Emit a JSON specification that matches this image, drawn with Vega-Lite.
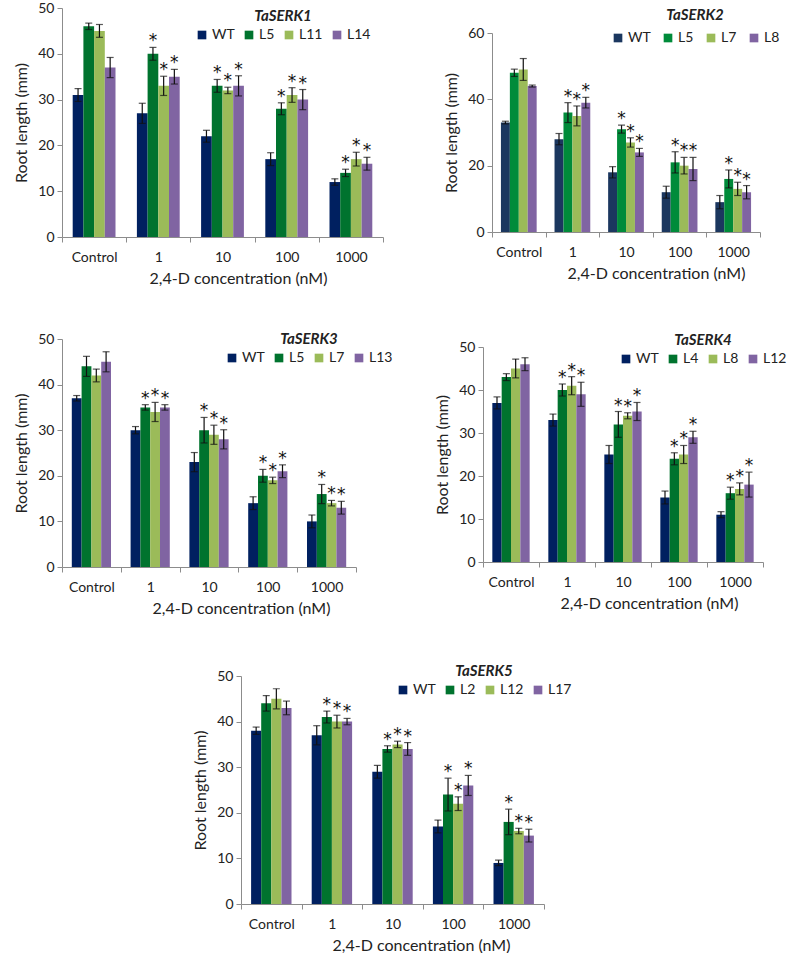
{
  "$schema": "https://vega.github.io/schema/vega-lite/v6.json",
  "padding": {"left": 13, "top": 1, "right": 0, "bottom": 0},
  "background": "white",
  "config": {
    "font": "Lato",
    "view": {"stroke": null},
    "axis": {"grid": false, "domainColor": "#8c8c8c", "tickColor": "#8c8c8c", "labelColor": "#222", "titleColor": "#222", "labelFontSize": 14, "titleFontSize": 16, "titleFontWeight": "normal", "labelFont": "Lato", "titleFont": "Lato", "labelOverlap": false},
    "axisY": {"tickSize": 5, "labelPadding": 3, "titlePadding": 8},
    "axisX": {"tickSize": 5, "labelPadding": 8, "titlePadding": 6, "labelAngle": 0, "tickBand": "extent"},
    "legend": {"orient": "none", "direction": "horizontal", "symbolType": "square", "symbolSize": 75, "symbolStrokeWidth": 0, "labelFontSize": 14, "labelColor": "#222", "titleFontSize": 15, "titleFontStyle": "italic", "titleFontWeight": "bold", "titleColor": "#222", "titleAnchor": "middle", "titlePadding": 4, "labelOffset": 3, "columnPadding": 7},
    "tick": {"thickness": 1.2},
    "text": {"fontSize": 17, "font": "DejaVu Sans", "color": "#111"}
  },
  "datasets": {
    "p1": [
      {"c": "Control", "g": "WT", "v": 31, "lo": 29.6, "hi": 32.4, "sig": ""},
      {"c": "Control", "g": "L5", "v": 46, "lo": 45.3, "hi": 46.7, "sig": ""},
      {"c": "Control", "g": "L11", "v": 45, "lo": 43.6, "hi": 46.4, "sig": ""},
      {"c": "Control", "g": "L14", "v": 37, "lo": 34.8, "hi": 39.2, "sig": ""},
      {"c": "1", "g": "WT", "v": 27, "lo": 24.8, "hi": 29.2, "sig": ""},
      {"c": "1", "g": "L5", "v": 40, "lo": 38.6, "hi": 41.4, "sig": "*"},
      {"c": "1", "g": "L11", "v": 33, "lo": 30.9, "hi": 35.1, "sig": "*"},
      {"c": "1", "g": "L14", "v": 35, "lo": 33.4, "hi": 36.6, "sig": "*"},
      {"c": "10", "g": "WT", "v": 22, "lo": 20.7, "hi": 23.3, "sig": ""},
      {"c": "10", "g": "L5", "v": 33, "lo": 31.6, "hi": 34.4, "sig": "*"},
      {"c": "10", "g": "L11", "v": 32, "lo": 31.3, "hi": 32.7, "sig": "*"},
      {"c": "10", "g": "L14", "v": 33, "lo": 30.8, "hi": 35.2, "sig": "*"},
      {"c": "100", "g": "WT", "v": 17, "lo": 15.6, "hi": 18.4, "sig": ""},
      {"c": "100", "g": "L5", "v": 28, "lo": 26.7, "hi": 29.3, "sig": "*"},
      {"c": "100", "g": "L11", "v": 31, "lo": 29.4, "hi": 32.6, "sig": "*"},
      {"c": "100", "g": "L14", "v": 30, "lo": 27.8, "hi": 32.2, "sig": "*"},
      {"c": "1000", "g": "WT", "v": 12, "lo": 11.3, "hi": 12.7, "sig": ""},
      {"c": "1000", "g": "L5", "v": 14, "lo": 13.2, "hi": 14.8, "sig": "*"},
      {"c": "1000", "g": "L11", "v": 17, "lo": 15.5, "hi": 18.5, "sig": "*"},
      {"c": "1000", "g": "L14", "v": 16, "lo": 14.6, "hi": 17.4, "sig": "*"}
    ],
    "p2": [
      {"c": "Control", "g": "WT", "v": 33, "lo": 32.6, "hi": 33.4, "sig": ""},
      {"c": "Control", "g": "L5", "v": 48, "lo": 46.9, "hi": 49.1, "sig": ""},
      {"c": "Control", "g": "L7", "v": 49, "lo": 45.7, "hi": 52.3, "sig": ""},
      {"c": "Control", "g": "L8", "v": 44, "lo": 43.7, "hi": 44.3, "sig": ""},
      {"c": "1", "g": "WT", "v": 28, "lo": 26.3, "hi": 29.7, "sig": ""},
      {"c": "1", "g": "L5", "v": 36, "lo": 33, "hi": 39, "sig": "*"},
      {"c": "1", "g": "L7", "v": 35, "lo": 32, "hi": 38, "sig": "*"},
      {"c": "1", "g": "L8", "v": 39, "lo": 37.4, "hi": 40.6, "sig": "*"},
      {"c": "10", "g": "WT", "v": 18, "lo": 16.3, "hi": 19.7, "sig": ""},
      {"c": "10", "g": "L5", "v": 31, "lo": 29.8, "hi": 32.2, "sig": "*"},
      {"c": "10", "g": "L7", "v": 27, "lo": 25.6, "hi": 28.4, "sig": "*"},
      {"c": "10", "g": "L8", "v": 24, "lo": 22.8, "hi": 25.2, "sig": "*"},
      {"c": "100", "g": "WT", "v": 12, "lo": 10.2, "hi": 13.8, "sig": ""},
      {"c": "100", "g": "L5", "v": 21, "lo": 17.8, "hi": 24.2, "sig": "*"},
      {"c": "100", "g": "L7", "v": 20, "lo": 17.5, "hi": 22.5, "sig": "*"},
      {"c": "100", "g": "L8", "v": 19, "lo": 15.5, "hi": 22.5, "sig": "*"},
      {"c": "1000", "g": "WT", "v": 9, "lo": 7, "hi": 11, "sig": ""},
      {"c": "1000", "g": "L5", "v": 16, "lo": 13.3, "hi": 18.7, "sig": "*"},
      {"c": "1000", "g": "L7", "v": 13, "lo": 11, "hi": 15, "sig": "*"},
      {"c": "1000", "g": "L8", "v": 12, "lo": 10, "hi": 14, "sig": "*"}
    ],
    "p3": [
      {"c": "Control", "g": "WT", "v": 37, "lo": 36.4, "hi": 37.6, "sig": ""},
      {"c": "Control", "g": "L5", "v": 44, "lo": 41.8, "hi": 46.2, "sig": ""},
      {"c": "Control", "g": "L7", "v": 42, "lo": 40.6, "hi": 43.4, "sig": ""},
      {"c": "Control", "g": "L13", "v": 45, "lo": 42.8, "hi": 47.2, "sig": ""},
      {"c": "1", "g": "WT", "v": 30, "lo": 29.2, "hi": 30.8, "sig": ""},
      {"c": "1", "g": "L5", "v": 35, "lo": 34.4, "hi": 35.6, "sig": "*"},
      {"c": "1", "g": "L7", "v": 34, "lo": 31.9, "hi": 36.1, "sig": "*"},
      {"c": "1", "g": "L13", "v": 35, "lo": 34.4, "hi": 35.6, "sig": "*"},
      {"c": "10", "g": "WT", "v": 23, "lo": 20.9, "hi": 25.1, "sig": ""},
      {"c": "10", "g": "L5", "v": 30, "lo": 27.2, "hi": 32.8, "sig": "*"},
      {"c": "10", "g": "L7", "v": 29, "lo": 26.9, "hi": 31.1, "sig": "*"},
      {"c": "10", "g": "L13", "v": 28, "lo": 25.9, "hi": 30.1, "sig": "*"},
      {"c": "100", "g": "WT", "v": 14, "lo": 12.6, "hi": 15.4, "sig": ""},
      {"c": "100", "g": "L5", "v": 20, "lo": 18.6, "hi": 21.4, "sig": "*"},
      {"c": "100", "g": "L7", "v": 19, "lo": 18.3, "hi": 19.7, "sig": "*"},
      {"c": "100", "g": "L13", "v": 21, "lo": 19.6, "hi": 22.4, "sig": "*"},
      {"c": "1000", "g": "WT", "v": 10, "lo": 8.6, "hi": 11.4, "sig": ""},
      {"c": "1000", "g": "L5", "v": 16, "lo": 13.9, "hi": 18.1, "sig": "*"},
      {"c": "1000", "g": "L7", "v": 14, "lo": 13.4, "hi": 14.6, "sig": "*"},
      {"c": "1000", "g": "L13", "v": 13, "lo": 11.6, "hi": 14.4, "sig": "*"}
    ],
    "p4": [
      {"c": "Control", "g": "WT", "v": 37, "lo": 35.6, "hi": 38.4, "sig": ""},
      {"c": "Control", "g": "L4", "v": 43, "lo": 42.2, "hi": 43.8, "sig": ""},
      {"c": "Control", "g": "L8", "v": 45, "lo": 42.8, "hi": 47.2, "sig": ""},
      {"c": "Control", "g": "L12", "v": 46, "lo": 44.5, "hi": 47.5, "sig": ""},
      {"c": "1", "g": "WT", "v": 33, "lo": 31.6, "hi": 34.4, "sig": ""},
      {"c": "1", "g": "L4", "v": 40, "lo": 38.6, "hi": 41.4, "sig": "*"},
      {"c": "1", "g": "L8", "v": 41, "lo": 38.9, "hi": 43.1, "sig": "*"},
      {"c": "1", "g": "L12", "v": 39, "lo": 36.2, "hi": 41.8, "sig": "*"},
      {"c": "10", "g": "WT", "v": 25, "lo": 22.9, "hi": 27.1, "sig": ""},
      {"c": "10", "g": "L4", "v": 32, "lo": 29, "hi": 35, "sig": "*"},
      {"c": "10", "g": "L8", "v": 34, "lo": 33.3, "hi": 34.7, "sig": "*"},
      {"c": "10", "g": "L12", "v": 35, "lo": 32.9, "hi": 37.1, "sig": "*"},
      {"c": "100", "g": "WT", "v": 15, "lo": 13.5, "hi": 16.5, "sig": ""},
      {"c": "100", "g": "L4", "v": 24, "lo": 22.6, "hi": 25.4, "sig": "*"},
      {"c": "100", "g": "L8", "v": 25, "lo": 22.9, "hi": 27.1, "sig": "*"},
      {"c": "100", "g": "L12", "v": 29, "lo": 27.6, "hi": 30.4, "sig": "*"},
      {"c": "1000", "g": "WT", "v": 11, "lo": 10.3, "hi": 11.7, "sig": ""},
      {"c": "1000", "g": "L4", "v": 16, "lo": 14.6, "hi": 17.4, "sig": "*"},
      {"c": "1000", "g": "L8", "v": 17, "lo": 15.6, "hi": 18.4, "sig": "*"},
      {"c": "1000", "g": "L12", "v": 18, "lo": 15.1, "hi": 20.9, "sig": "*"}
    ],
    "p5": [
      {"c": "Control", "g": "WT", "v": 38, "lo": 37.2, "hi": 38.8, "sig": ""},
      {"c": "Control", "g": "L2", "v": 44, "lo": 42.3, "hi": 45.7, "sig": ""},
      {"c": "Control", "g": "L12", "v": 45, "lo": 42.8, "hi": 47.2, "sig": ""},
      {"c": "Control", "g": "L17", "v": 43, "lo": 41.5, "hi": 44.5, "sig": ""},
      {"c": "1", "g": "WT", "v": 37, "lo": 34.9, "hi": 39.1, "sig": ""},
      {"c": "1", "g": "L2", "v": 41, "lo": 39.7, "hi": 42.3, "sig": "*"},
      {"c": "1", "g": "L12", "v": 40, "lo": 38.6, "hi": 41.4, "sig": "*"},
      {"c": "1", "g": "L17", "v": 40, "lo": 39.3, "hi": 40.7, "sig": "*"},
      {"c": "10", "g": "WT", "v": 29, "lo": 27.6, "hi": 30.4, "sig": ""},
      {"c": "10", "g": "L2", "v": 34, "lo": 33.3, "hi": 34.7, "sig": "*"},
      {"c": "10", "g": "L12", "v": 35, "lo": 34.3, "hi": 35.7, "sig": "*"},
      {"c": "10", "g": "L17", "v": 34, "lo": 32.6, "hi": 35.4, "sig": "*"},
      {"c": "100", "g": "WT", "v": 17, "lo": 15.6, "hi": 18.4, "sig": ""},
      {"c": "100", "g": "L2", "v": 24, "lo": 20.4, "hi": 27.6, "sig": "*"},
      {"c": "100", "g": "L12", "v": 22, "lo": 20.5, "hi": 23.5, "sig": "*"},
      {"c": "100", "g": "L17", "v": 26, "lo": 23.8, "hi": 28.2, "sig": "*"},
      {"c": "1000", "g": "WT", "v": 9, "lo": 8.4, "hi": 9.6, "sig": ""},
      {"c": "1000", "g": "L2", "v": 18, "lo": 15.2, "hi": 20.8, "sig": "*"},
      {"c": "1000", "g": "L12", "v": 16, "lo": 15.4, "hi": 16.6, "sig": "*"},
      {"c": "1000", "g": "L17", "v": 15, "lo": 13.6, "hi": 16.4, "sig": "*"}
    ]
  },
  "vconcat": [
    {
      "hconcat": [
        {
          "width": 321, "height": 229,
          "data": {"name": "p1"},
          "encoding": {
            "x": {"field": "c", "type": "nominal", "sort": ["Control", "1", "10", "100", "1000"], "scale": {"paddingInner": 0, "paddingOuter": 0}, "axis": {"title": "2,4-D concentration (nM)", "titleX": 176}},
            "xOffset": {"field": "g", "type": "nominal", "sort": ["WT", "L5", "L11", "L14"], "scale": {"paddingInner": 0, "paddingOuter": 1}}
          },
          "layer": [
            {"mark": {"type": "bar"}, "encoding": {
              "y": {"field": "v", "type": "quantitative", "title": "Root length (mm)", "scale": {"domain": [0, 50], "nice": false}, "axis": {"values": [0, 10, 20, 30, 40, 50]}},
              "color": {"field": "g", "type": "nominal", "sort": ["WT", "L5", "L11", "L14"], "scale": {"domain": ["WT", "L5", "L11", "L14"], "range": ["#002060", "#00732E", "#9BBB59", "#8064A2"]}, "legend": {"title": "TaSERK1", "legendX": 133, "legendY": 1}}
            }},
            {"mark": {"type": "rule", "color": "#111", "strokeWidth": 1.2}, "encoding": {"y": {"field": "lo", "type": "quantitative", "title": "Root length (mm)"}, "y2": {"field": "hi"}}},
            {"mark": {"type": "tick", "color": "#111", "size": 7, "orient": "horizontal"}, "encoding": {"y": {"field": "lo", "type": "quantitative", "title": "Root length (mm)"}}},
            {"mark": {"type": "tick", "color": "#111", "size": 7, "orient": "horizontal"}, "encoding": {"y": {"field": "hi", "type": "quantitative", "title": "Root length (mm)"}}},
            {"mark": {"type": "text", "baseline": "alphabetic", "dy": -1, "color": "#111"}, "encoding": {"y": {"field": "hi", "type": "quantitative", "title": "Root length (mm)"}, "text": {"field": "sig"}}}
          ]
        },
        {
          "width": 268, "height": 224,
          "data": {"name": "p2"},
          "encoding": {
            "x": {"field": "c", "type": "nominal", "sort": ["Control", "1", "10", "100", "1000"], "scale": {"paddingInner": 0, "paddingOuter": 0}, "axis": {"title": "2,4-D concentration (nM)", "titleX": 164}},
            "xOffset": {"field": "g", "type": "nominal", "sort": ["WT", "L5", "L7", "L8"], "scale": {"paddingInner": 0, "paddingOuter": 1}}
          },
          "layer": [
            {"mark": {"type": "bar"}, "encoding": {
              "y": {"field": "v", "type": "quantitative", "title": "Root length (mm)", "scale": {"domain": [0, 60], "nice": false, "range": [224, 25]}, "axis": {"values": [0, 10, 20, 30, 40, 50, 60]}},
              "color": {"field": "g", "type": "nominal", "sort": ["WT", "L5", "L7", "L8"], "scale": {"domain": ["WT", "L5", "L7", "L8"], "range": ["#1B375F", "#008B3A", "#9BBB59", "#8064A2"]}, "legend": {"title": "TaSERK2", "legendX": 119, "legendY": 0, "columnPadding": 10, "titlePadding": 8}}
            }},
            {"mark": {"type": "rule", "color": "#111", "strokeWidth": 1.2}, "encoding": {"y": {"field": "lo", "type": "quantitative", "title": "Root length (mm)"}, "y2": {"field": "hi"}}},
            {"mark": {"type": "tick", "color": "#111", "size": 7, "orient": "horizontal"}, "encoding": {"y": {"field": "lo", "type": "quantitative", "title": "Root length (mm)"}}},
            {"mark": {"type": "tick", "color": "#111", "size": 7, "orient": "horizontal"}, "encoding": {"y": {"field": "hi", "type": "quantitative", "title": "Root length (mm)"}}},
            {"mark": {"type": "text", "baseline": "alphabetic", "dy": -1, "color": "#111"}, "encoding": {"y": {"field": "hi", "type": "quantitative", "title": "Root length (mm)"}, "text": {"field": "sig"}}}
          ]
        }
      ],
      "spacing": 59,
      "resolve": {"scale": {"color": "independent", "x": "independent", "y": "independent", "xOffset": "independent"}, "legend": {"color": "independent"}}
    },
    {
      "vconcat": [
        {
          "hconcat": [
            {
              "width": 294, "height": 228,
              "data": {"name": "p3"},
              "encoding": {
                "x": {"field": "c", "type": "nominal", "sort": ["Control", "1", "10", "100", "1000"], "scale": {"paddingInner": 0, "paddingOuter": 0}, "axis": {"title": "2,4-D concentration (nM)", "titleX": 179}},
                "xOffset": {"field": "g", "type": "nominal", "sort": ["WT", "L5", "L7", "L13"], "scale": {"paddingInner": 0, "paddingOuter": 1}}
              },
              "layer": [
                {"mark": {"type": "bar"}, "encoding": {
                  "y": {"field": "v", "type": "quantitative", "title": "Root length (mm)", "scale": {"domain": [0, 50], "nice": false}, "axis": {"values": [0, 10, 20, 30, 40, 50]}},
                  "color": {"field": "g", "type": "nominal", "sort": ["WT", "L5", "L7", "L13"], "scale": {"domain": ["WT", "L5", "L7", "L13"], "range": ["#002060", "#00732E", "#9BBB59", "#8064A2"]}, "legend": {"title": "TaSERK3", "legendX": 163, "legendY": -7}}
                }},
                {"mark": {"type": "rule", "color": "#111", "strokeWidth": 1.2}, "encoding": {"y": {"field": "lo", "type": "quantitative", "title": "Root length (mm)"}, "y2": {"field": "hi"}}},
                {"mark": {"type": "tick", "color": "#111", "size": 7, "orient": "horizontal"}, "encoding": {"y": {"field": "lo", "type": "quantitative", "title": "Root length (mm)"}}},
                {"mark": {"type": "tick", "color": "#111", "size": 7, "orient": "horizontal"}, "encoding": {"y": {"field": "hi", "type": "quantitative", "title": "Root length (mm)"}}},
                {"mark": {"type": "text", "baseline": "alphabetic", "dy": -1, "color": "#111"}, "encoding": {"y": {"field": "hi", "type": "quantitative", "title": "Root length (mm)"}, "text": {"field": "sig"}}}
              ]
            },
            {
              "width": 280, "height": 223,
              "data": {"name": "p4"},
              "encoding": {
                "x": {"field": "c", "type": "nominal", "sort": ["Control", "1", "10", "100", "1000"], "scale": {"paddingInner": 0, "paddingOuter": 0}, "axis": {"title": "2,4-D concentration (nM)", "titleX": 166}},
                "xOffset": {"field": "g", "type": "nominal", "sort": ["WT", "L4", "L8", "L12"], "scale": {"paddingInner": 0, "paddingOuter": 1}}
              },
              "layer": [
                {"mark": {"type": "bar"}, "encoding": {
                  "y": {"field": "v", "type": "quantitative", "title": "Root length (mm)", "scale": {"domain": [0, 50], "nice": false, "range": [223, 8]}, "axis": {"values": [0, 10, 20, 30, 40, 50]}},
                  "color": {"field": "g", "type": "nominal", "sort": ["WT", "L4", "L8", "L12"], "scale": {"domain": ["WT", "L4", "L8", "L12"], "range": ["#002060", "#00732E", "#9BBB59", "#8064A2"]}, "legend": {"title": "TaSERK4", "legendX": 136, "legendY": -6}}
                }},
                {"mark": {"type": "rule", "color": "#111", "strokeWidth": 1.2}, "encoding": {"y": {"field": "lo", "type": "quantitative", "title": "Root length (mm)"}, "y2": {"field": "hi"}}},
                {"mark": {"type": "tick", "color": "#111", "size": 7, "orient": "horizontal"}, "encoding": {"y": {"field": "lo", "type": "quantitative", "title": "Root length (mm)"}}},
                {"mark": {"type": "tick", "color": "#111", "size": 7, "orient": "horizontal"}, "encoding": {"y": {"field": "hi", "type": "quantitative", "title": "Root length (mm)"}}},
                {"mark": {"type": "text", "baseline": "alphabetic", "dy": -1, "color": "#111"}, "encoding": {"y": {"field": "hi", "type": "quantitative", "title": "Root length (mm)"}, "text": {"field": "sig"}}}
              ]
            }
          ],
          "spacing": 41,
          "resolve": {"scale": {"color": "independent", "x": "independent", "y": "independent", "xOffset": "independent"}, "legend": {"color": "independent"}}
        },
        {
          "hconcat": [
            {
              "width": 80, "height": 1,
              "data": {"values": []},
              "mark": {"type": "point", "opacity": 0},
              "encoding": {}
            },
            {
              "width": 303, "height": 228,
              "data": {"name": "p5"},
              "encoding": {
                "x": {"field": "c", "type": "nominal", "sort": ["Control", "1", "10", "100", "1000"], "scale": {"paddingInner": 0, "paddingOuter": 0}, "axis": {"title": "2,4-D concentration (nM)", "titleX": 180}},
                "xOffset": {"field": "g", "type": "nominal", "sort": ["WT", "L2", "L12", "L17"], "scale": {"paddingInner": 0, "paddingOuter": 1}}
              },
              "layer": [
                {"mark": {"type": "bar"}, "encoding": {
                  "y": {"field": "v", "type": "quantitative", "title": "Root length (mm)", "scale": {"domain": [0, 50], "nice": false}, "axis": {"values": [0, 10, 20, 30, 40, 50]}},
                  "color": {"field": "g", "type": "nominal", "sort": ["WT", "L2", "L12", "L17"], "scale": {"domain": ["WT", "L2", "L12", "L17"], "range": ["#002060", "#00732E", "#9BBB59", "#8064A2"]}, "legend": {"title": "TaSERK5", "legendX": 155, "legendY": -12}}
                }},
                {"mark": {"type": "rule", "color": "#111", "strokeWidth": 1.2}, "encoding": {"y": {"field": "lo", "type": "quantitative", "title": "Root length (mm)"}, "y2": {"field": "hi"}}},
                {"mark": {"type": "tick", "color": "#111", "size": 7, "orient": "horizontal"}, "encoding": {"y": {"field": "lo", "type": "quantitative", "title": "Root length (mm)"}}},
                {"mark": {"type": "tick", "color": "#111", "size": 7, "orient": "horizontal"}, "encoding": {"y": {"field": "hi", "type": "quantitative", "title": "Root length (mm)"}}},
                {"mark": {"type": "text", "baseline": "alphabetic", "dy": -1, "color": "#111"}, "encoding": {"y": {"field": "hi", "type": "quantitative", "title": "Root length (mm)"}, "text": {"field": "sig"}}}
              ]
            }
          ],
          "spacing": 50,
          "resolve": {"scale": {"color": "independent", "x": "independent", "y": "independent", "xOffset": "independent"}, "legend": {"color": "independent"}}
        }
      ],
      "spacing": 48,
      "resolve": {"scale": {"color": "independent", "x": "independent", "y": "independent", "xOffset": "independent"}, "legend": {"color": "independent"}}
    }
  ],
  "spacing": 46,
  "resolve": {"scale": {"color": "independent", "x": "independent", "y": "independent", "xOffset": "independent"}, "legend": {"color": "independent"}}
}
